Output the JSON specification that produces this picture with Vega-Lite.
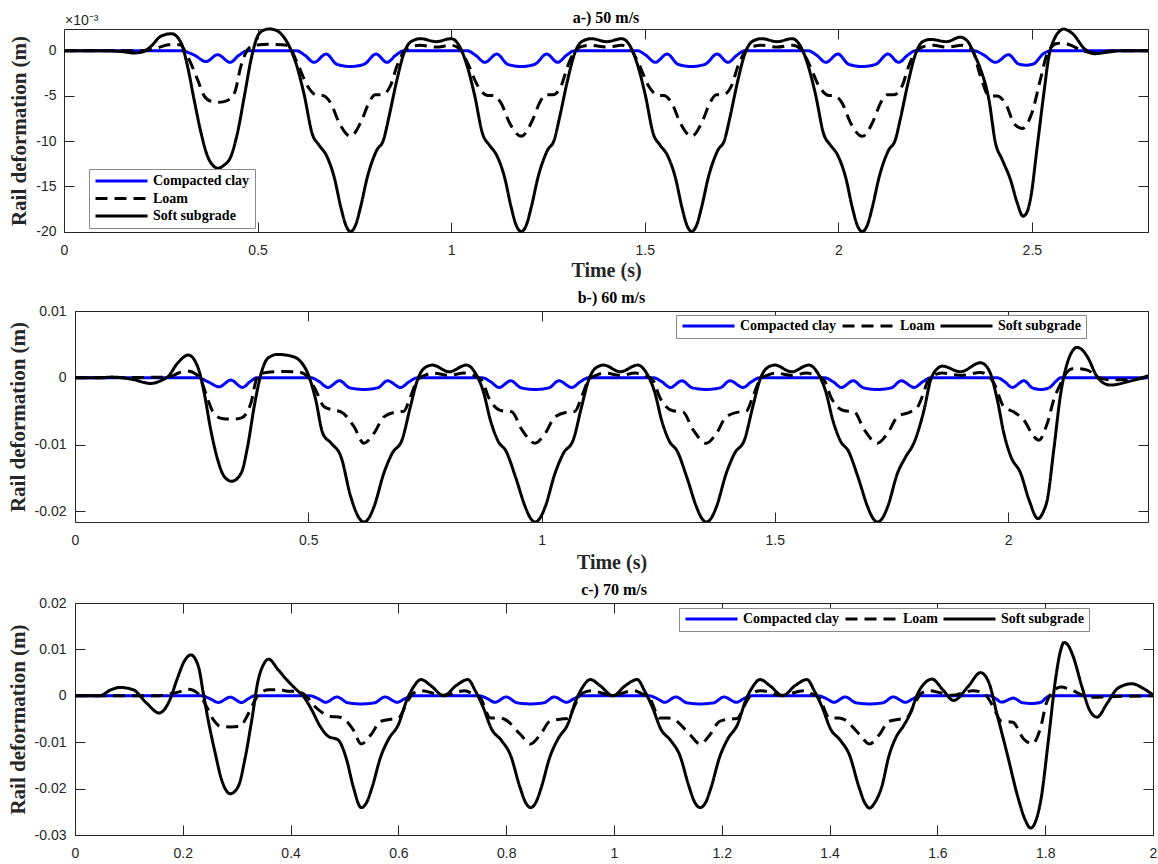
{
"$schema": "https://vega.github.io/schema/vega-lite/v6.json",
"background": "white",
"padding": {"left": 6, "top": 10, "right": 2, "bottom": 0},
"spacing": 8,
"config": {
  "view": {"stroke": "#262626", "strokeWidth": 1},
  "title": {"font": "Liberation Serif", "fontWeight": "bold", "fontSize": 16, "color": "#000000", "offset": 4, "frame": "group", "anchor": "middle"},
  "axis": {"labelFont": "Liberation Sans", "labelFontSize": 14, "labelColor": "#262626", "titleFont": "Liberation Serif", "titleFontWeight": "bold", "titleColor": "#262626", "grid": false, "domain": false, "domainColor": "#262626", "domainWidth": 1, "ticks": true, "tickColor": "#262626", "tickWidth": 1, "tickSize": 10, "offset": -10, "minExtent": 0, "labelFlush": false, "labelOverlap": false},
  "legend": {"orient": "none", "labelFont": "Liberation Serif", "labelFontWeight": "bold", "labelFontSize": 14, "labelColor": "#000000", "symbolType": "stroke", "symbolSize": 2704, "symbolStrokeWidth": 3, "labelOffset": 4, "fillColor": "#ffffff", "strokeColor": "#8a8a8a", "padding": 5, "clipHeight": 14, "rowPadding": 3.5, "columnPadding": 4}
},
"resolve": {"scale": {"color": "independent", "strokeDash": "independent"}},
"datasets": {
"a": [
{"s":"C","t":0,"v":0},{"s":"C","t":0.3,"v":0},{"s":"C","t":0.335,"v":-0.00045},{"s":"C","t":0.367,"v":-0.0012},{"s":"C","t":0.397,"v":-0.00044},{"s":"C","t":0.429,"v":-0.00129},{"s":"C","t":0.452,"v":-0.0005},{"s":"C","t":0.474,"v":0},
{"s":"C","t":0.6,"v":0},{"s":"C","t":0.622,"v":-0.0005},{"s":"C","t":0.646,"v":-0.00129},{"s":"C","t":0.677,"v":-0.00037},{"s":"C","t":0.705,"v":-0.0015},{"s":"C","t":0.74,"v":-0.00175},{"s":"C","t":0.775,"v":-0.0015},{"s":"C","t":0.806,"v":-0.00037},{"s":"C","t":0.834,"v":-0.00129},{"s":"C","t":0.857,"v":-0.0005},{"s":"C","t":0.878,"v":0},
{"s":"C","t":1.041,"v":0},{"s":"C","t":1.063,"v":-0.0005},{"s":"C","t":1.087,"v":-0.00129},{"s":"C","t":1.118,"v":-0.00037},{"s":"C","t":1.146,"v":-0.0015},{"s":"C","t":1.181,"v":-0.00175},{"s":"C","t":1.216,"v":-0.0015},{"s":"C","t":1.247,"v":-0.00037},{"s":"C","t":1.275,"v":-0.00129},{"s":"C","t":1.298,"v":-0.0005},{"s":"C","t":1.319,"v":0},
{"s":"C","t":1.481,"v":0},{"s":"C","t":1.503,"v":-0.0005},{"s":"C","t":1.527,"v":-0.00129},{"s":"C","t":1.558,"v":-0.00037},{"s":"C","t":1.586,"v":-0.0015},{"s":"C","t":1.621,"v":-0.00175},{"s":"C","t":1.656,"v":-0.0015},{"s":"C","t":1.687,"v":-0.00037},{"s":"C","t":1.715,"v":-0.00129},{"s":"C","t":1.738,"v":-0.0005},{"s":"C","t":1.759,"v":0},
{"s":"C","t":1.922,"v":0},{"s":"C","t":1.944,"v":-0.0005},{"s":"C","t":1.968,"v":-0.00129},{"s":"C","t":1.999,"v":-0.00037},{"s":"C","t":2.027,"v":-0.0015},{"s":"C","t":2.062,"v":-0.00175},{"s":"C","t":2.097,"v":-0.0015},{"s":"C","t":2.128,"v":-0.00037},{"s":"C","t":2.156,"v":-0.00129},{"s":"C","t":2.179,"v":-0.0005},{"s":"C","t":2.2,"v":0},
{"s":"C","t":2.35,"v":0},{"s":"C","t":2.375,"v":-0.00045},{"s":"C","t":2.406,"v":-0.00129},{"s":"C","t":2.44,"v":-0.00044},{"s":"C","t":2.465,"v":-0.00145},{"s":"C","t":2.485,"v":-0.0016},{"s":"C","t":2.505,"v":-0.00145},{"s":"C","t":2.528,"v":-0.0004},{"s":"C","t":2.55,"v":0},{"s":"C","t":2.8,"v":0},
{"s":"L","t":0,"v":0},{"s":"L","t":0.2,"v":0},{"s":"L","t":0.24,"v":0.0003},{"s":"L","t":0.27,"v":0.00066},{"s":"L","t":0.3,"v":0.00066},{"s":"L","t":0.319,"v":-0.0006},{"s":"L","t":0.345,"v":-0.0032},{"s":"L","t":0.362,"v":-0.005},{"s":"L","t":0.38,"v":-0.0056},{"s":"L","t":0.398,"v":-0.0057},{"s":"L","t":0.416,"v":-0.0056},{"s":"L","t":0.44,"v":-0.0047},{"s":"L","t":0.457,"v":-0.0017},{"s":"L","t":0.474,"v":0.0001},{"s":"L","t":0.49,"v":0.0006},{"s":"L","t":0.53,"v":0.0007},{"s":"L","t":0.578,"v":0.0006},{"s":"L","t":0.603,"v":-0.0014},{"s":"L","t":0.629,"v":-0.0039},{"s":"L","t":0.655,"v":-0.00495},{"s":"L","t":0.668,"v":-0.00495},{"s":"L","t":0.689,"v":-0.0058},{"s":"L","t":0.711,"v":-0.008},
{"s":"L","t":0.74,"v":-0.00947},{"s":"L","t":0.77,"v":-0.0076},{"s":"L","t":0.787,"v":-0.0058},{"s":"L","t":0.804,"v":-0.00486},{"s":"L","t":0.822,"v":-0.00486},{"s":"L","t":0.843,"v":-0.0039},{"s":"L","t":0.86,"v":-0.0017},{"s":"L","t":0.878,"v":-0.0001},{"s":"L","t":0.895,"v":0.00045},{"s":"L","t":0.921,"v":0.0006},{"s":"L","t":0.961,"v":0.0004},{"s":"L","t":1,"v":0.0006},{"s":"L","t":1.022,"v":0.0002},{"s":"L","t":1.043,"v":-0.0014},{"s":"L","t":1.069,"v":-0.0039},{"s":"L","t":1.095,"v":-0.00495},{"s":"L","t":1.108,"v":-0.00495},{"s":"L","t":1.129,"v":-0.0058},{"s":"L","t":1.151,"v":-0.008},
{"s":"L","t":1.181,"v":-0.00947},{"s":"L","t":1.211,"v":-0.0076},{"s":"L","t":1.228,"v":-0.0058},{"s":"L","t":1.245,"v":-0.00486},{"s":"L","t":1.263,"v":-0.00486},{"s":"L","t":1.284,"v":-0.0039},{"s":"L","t":1.301,"v":-0.0017},{"s":"L","t":1.319,"v":-0.0001},{"s":"L","t":1.336,"v":0.00045},{"s":"L","t":1.362,"v":0.0006},{"s":"L","t":1.402,"v":0.0004},{"s":"L","t":1.441,"v":0.0006},{"s":"L","t":1.463,"v":0.0002},{"s":"L","t":1.484,"v":-0.0014},{"s":"L","t":1.51,"v":-0.0039},{"s":"L","t":1.536,"v":-0.00495},{"s":"L","t":1.549,"v":-0.00495},{"s":"L","t":1.57,"v":-0.0058},{"s":"L","t":1.592,"v":-0.008},
{"s":"L","t":1.621,"v":-0.00947},{"s":"L","t":1.651,"v":-0.0076},{"s":"L","t":1.668,"v":-0.0058},{"s":"L","t":1.685,"v":-0.00486},{"s":"L","t":1.703,"v":-0.00486},{"s":"L","t":1.724,"v":-0.0039},{"s":"L","t":1.741,"v":-0.0017},{"s":"L","t":1.759,"v":-0.0001},{"s":"L","t":1.776,"v":0.00045},{"s":"L","t":1.802,"v":0.0006},{"s":"L","t":1.842,"v":0.0004},{"s":"L","t":1.881,"v":0.0006},{"s":"L","t":1.903,"v":0.0002},{"s":"L","t":1.924,"v":-0.0014},{"s":"L","t":1.95,"v":-0.0039},{"s":"L","t":1.976,"v":-0.00495},{"s":"L","t":1.989,"v":-0.00495},{"s":"L","t":2.01,"v":-0.0058},{"s":"L","t":2.032,"v":-0.008},
{"s":"L","t":2.062,"v":-0.00947},{"s":"L","t":2.092,"v":-0.0076},{"s":"L","t":2.109,"v":-0.0058},{"s":"L","t":2.126,"v":-0.00486},{"s":"L","t":2.144,"v":-0.00486},{"s":"L","t":2.165,"v":-0.0039},{"s":"L","t":2.182,"v":-0.0017},{"s":"L","t":2.2,"v":-0.0001},{"s":"L","t":2.22,"v":0.00045},{"s":"L","t":2.245,"v":0.0006},{"s":"L","t":2.28,"v":0.0004},{"s":"L","t":2.32,"v":0.0006},{"s":"L","t":2.345,"v":0.0002},{"s":"L","t":2.367,"v":-0.0028},{"s":"L","t":2.39,"v":-0.005},{"s":"L","t":2.41,"v":-0.005},{"s":"L","t":2.436,"v":-0.0062},{"s":"L","t":2.453,"v":-0.008},{"s":"L","t":2.475,"v":-0.0086},{"s":"L","t":2.5,"v":-0.0069},{"s":"L","t":2.522,"v":-0.0032},{"s":"L","t":2.54,"v":-0.0003},{"s":"L","t":2.565,"v":0.0008},{"s":"L","t":2.58,"v":0.00085},{"s":"L","t":2.607,"v":0.00048},{"s":"L","t":2.63,"v":0},{"s":"L","t":2.665,"v":-0.00025},{"s":"L","t":2.71,"v":0},{"s":"L","t":2.8,"v":0},
{"s":"S","t":0,"v":0},{"s":"S","t":0.1,"v":0},{"s":"S","t":0.15,"v":-0.0001},{"s":"S","t":0.18,"v":-0.00025},{"s":"S","t":0.205,"v":-0.0001},{"s":"S","t":0.225,"v":0.0005},{"s":"S","t":0.25,"v":0.0016},{"s":"S","t":0.278,"v":0.00188},{"s":"S","t":0.302,"v":0.0009},{"s":"S","t":0.319,"v":-0.0017},{"s":"S","t":0.336,"v":-0.0054},{"s":"S","t":0.354,"v":-0.0091},{"s":"S","t":0.371,"v":-0.0117},{"s":"S","t":0.385,"v":-0.0127},{"s":"S","t":0.398,"v":-0.013},{"s":"S","t":0.412,"v":-0.0127},{"s":"S","t":0.431,"v":-0.0117},{"s":"S","t":0.448,"v":-0.0091},{"s":"S","t":0.466,"v":-0.005},{"s":"S","t":0.483,"v":-0.001},{"s":"S","t":0.5,"v":0.0016},{"s":"S","t":0.515,"v":0.00225},{"s":"S","t":0.53,"v":0.0024},{"s":"S","t":0.545,"v":0.0023},{"s":"S","t":0.56,"v":0.0019},{"s":"S","t":0.586,"v":0.0001},{"s":"S","t":0.6,"v":-0.0015},{"s":"S","t":0.62,"v":-0.0048},{"s":"S","t":0.642,"v":-0.0093},{"s":"S","t":0.658,"v":-0.0104},{"s":"S","t":0.678,"v":-0.0116},{"s":"S","t":0.698,"v":-0.014},{"s":"S","t":0.715,"v":-0.0173},{"s":"S","t":0.728,"v":-0.0193},
{"s":"S","t":0.74,"v":-0.02},{"s":"S","t":0.753,"v":-0.0193},{"s":"S","t":0.766,"v":-0.0173},{"s":"S","t":0.784,"v":-0.0139},{"s":"S","t":0.808,"v":-0.011},{"s":"S","t":0.825,"v":-0.0099},{"s":"S","t":0.839,"v":-0.0074},{"s":"S","t":0.859,"v":-0.0034},{"s":"S","t":0.878,"v":-0.0003},{"s":"S","t":0.896,"v":0.001},{"s":"S","t":0.921,"v":0.00133},{"s":"S","t":0.961,"v":0.001},{"s":"S","t":1,"v":0.00133},{"s":"S","t":1.02,"v":0.0006},{"s":"S","t":1.04,"v":-0.0015},{"s":"S","t":1.06,"v":-0.0048},{"s":"S","t":1.082,"v":-0.0093},{"s":"S","t":1.098,"v":-0.0104},{"s":"S","t":1.118,"v":-0.0116},{"s":"S","t":1.138,"v":-0.014},{"s":"S","t":1.155,"v":-0.0173},{"s":"S","t":1.168,"v":-0.0193},
{"s":"S","t":1.181,"v":-0.02},{"s":"S","t":1.194,"v":-0.0193},{"s":"S","t":1.207,"v":-0.0173},{"s":"S","t":1.225,"v":-0.0139},{"s":"S","t":1.249,"v":-0.011},{"s":"S","t":1.266,"v":-0.0099},{"s":"S","t":1.28,"v":-0.0074},{"s":"S","t":1.3,"v":-0.0034},{"s":"S","t":1.319,"v":-0.0003},{"s":"S","t":1.337,"v":0.001},{"s":"S","t":1.362,"v":0.00133},{"s":"S","t":1.402,"v":0.001},{"s":"S","t":1.441,"v":0.00133},{"s":"S","t":1.461,"v":0.0006},{"s":"S","t":1.481,"v":-0.0015},{"s":"S","t":1.501,"v":-0.0048},{"s":"S","t":1.523,"v":-0.0093},{"s":"S","t":1.539,"v":-0.0104},{"s":"S","t":1.559,"v":-0.0116},{"s":"S","t":1.579,"v":-0.014},{"s":"S","t":1.596,"v":-0.0173},{"s":"S","t":1.609,"v":-0.0193},
{"s":"S","t":1.621,"v":-0.02},{"s":"S","t":1.634,"v":-0.0193},{"s":"S","t":1.647,"v":-0.0173},{"s":"S","t":1.665,"v":-0.0139},{"s":"S","t":1.689,"v":-0.011},{"s":"S","t":1.706,"v":-0.0099},{"s":"S","t":1.72,"v":-0.0074},{"s":"S","t":1.74,"v":-0.0034},{"s":"S","t":1.759,"v":-0.0003},{"s":"S","t":1.777,"v":0.001},{"s":"S","t":1.802,"v":0.00133},{"s":"S","t":1.842,"v":0.001},{"s":"S","t":1.881,"v":0.00133},{"s":"S","t":1.901,"v":0.0006},{"s":"S","t":1.921,"v":-0.0015},{"s":"S","t":1.941,"v":-0.0048},{"s":"S","t":1.963,"v":-0.0093},{"s":"S","t":1.979,"v":-0.0104},{"s":"S","t":1.999,"v":-0.0116},{"s":"S","t":2.019,"v":-0.014},{"s":"S","t":2.036,"v":-0.0173},{"s":"S","t":2.049,"v":-0.0193},
{"s":"S","t":2.062,"v":-0.02},{"s":"S","t":2.075,"v":-0.0193},{"s":"S","t":2.088,"v":-0.0173},{"s":"S","t":2.106,"v":-0.0139},{"s":"S","t":2.13,"v":-0.011},{"s":"S","t":2.147,"v":-0.0099},{"s":"S","t":2.161,"v":-0.0074},{"s":"S","t":2.181,"v":-0.0034},{"s":"S","t":2.2,"v":-0.0003},{"s":"S","t":2.218,"v":0.001},{"s":"S","t":2.238,"v":0.00125},{"s":"S","t":2.28,"v":0.001},{"s":"S","t":2.315,"v":0.0015},{"s":"S","t":2.335,"v":0.001},{"s":"S","t":2.35,"v":-0.0003},{"s":"S","t":2.367,"v":-0.002},{"s":"S","t":2.389,"v":-0.0054},{"s":"S","t":2.406,"v":-0.0102},{"s":"S","t":2.423,"v":-0.012},{"s":"S","t":2.445,"v":-0.0143},{"s":"S","t":2.462,"v":-0.0168},{"s":"S","t":2.477,"v":-0.0183},{"s":"S","t":2.488,"v":-0.0178},{"s":"S","t":2.498,"v":-0.016},{"s":"S","t":2.513,"v":-0.0109},{"s":"S","t":2.531,"v":-0.0047},{"s":"S","t":2.544,"v":-0.0006},{"s":"S","t":2.557,"v":0.0012},{"s":"S","t":2.57,"v":0.0021},{"s":"S","t":2.582,"v":0.0024},{"s":"S","t":2.595,"v":0.0022},{"s":"S","t":2.608,"v":0.00177},{"s":"S","t":2.634,"v":0.0003},{"s":"S","t":2.66,"v":-0.00033},{"s":"S","t":2.694,"v":-0.00018},{"s":"S","t":2.73,"v":0},{"s":"S","t":2.8,"v":0}
],
"b": [
{"s":"C","t":0,"v":0},{"s":"C","t":0.263,"v":0},{"s":"C","t":0.285,"v":-0.0006},{"s":"C","t":0.309,"v":-0.00135},{"s":"C","t":0.334,"v":-0.00035},{"s":"C","t":0.359,"v":-0.00145},{"s":"C","t":0.375,"v":-0.0006},{"s":"C","t":0.39,"v":0},
{"s":"C","t":0.506,"v":0},{"s":"C","t":0.524,"v":-0.0006},{"s":"C","t":0.542,"v":-0.00145},{"s":"C","t":0.567,"v":-0.00045},{"s":"C","t":0.589,"v":-0.0015},{"s":"C","t":0.619,"v":-0.00175},{"s":"C","t":0.649,"v":-0.0015},{"s":"C","t":0.67,"v":-0.00045},{"s":"C","t":0.698,"v":-0.00145},{"s":"C","t":0.716,"v":-0.0006},{"s":"C","t":0.734,"v":0},
{"s":"C","t":0.873,"v":0},{"s":"C","t":0.891,"v":-0.0006},{"s":"C","t":0.909,"v":-0.00145},{"s":"C","t":0.934,"v":-0.00045},{"s":"C","t":0.956,"v":-0.0015},{"s":"C","t":0.986,"v":-0.00175},{"s":"C","t":1.016,"v":-0.0015},{"s":"C","t":1.037,"v":-0.00045},{"s":"C","t":1.065,"v":-0.00145},{"s":"C","t":1.083,"v":-0.0006},{"s":"C","t":1.101,"v":0},
{"s":"C","t":1.24,"v":0},{"s":"C","t":1.258,"v":-0.0006},{"s":"C","t":1.276,"v":-0.00145},{"s":"C","t":1.301,"v":-0.00045},{"s":"C","t":1.323,"v":-0.0015},{"s":"C","t":1.353,"v":-0.00175},{"s":"C","t":1.383,"v":-0.0015},{"s":"C","t":1.404,"v":-0.00045},{"s":"C","t":1.432,"v":-0.00145},{"s":"C","t":1.45,"v":-0.0006},{"s":"C","t":1.468,"v":0},
{"s":"C","t":1.607,"v":0},{"s":"C","t":1.625,"v":-0.0006},{"s":"C","t":1.643,"v":-0.00145},{"s":"C","t":1.668,"v":-0.00045},{"s":"C","t":1.69,"v":-0.0015},{"s":"C","t":1.72,"v":-0.00175},{"s":"C","t":1.75,"v":-0.0015},{"s":"C","t":1.771,"v":-0.00045},{"s":"C","t":1.799,"v":-0.00145},{"s":"C","t":1.817,"v":-0.0006},{"s":"C","t":1.835,"v":0},
{"s":"C","t":1.977,"v":0},{"s":"C","t":1.993,"v":-0.0006},{"s":"C","t":2.009,"v":-0.00145},{"s":"C","t":2.034,"v":-0.00045},{"s":"C","t":2.052,"v":-0.0015},{"s":"C","t":2.07,"v":-0.00175},{"s":"C","t":2.088,"v":-0.0015},{"s":"C","t":2.103,"v":-0.0005},{"s":"C","t":2.113,"v":0},{"s":"C","t":2.3,"v":0},
{"s":"L","t":0,"v":0},{"s":"L","t":0.2,"v":0.0001},{"s":"L","t":0.225,"v":0.0008},{"s":"L","t":0.241,"v":0.001},{"s":"L","t":0.258,"v":0.0006},{"s":"L","t":0.27,"v":-0.00035},{"s":"L","t":0.285,"v":-0.0033},{"s":"L","t":0.298,"v":-0.0054},{"s":"L","t":0.315,"v":-0.0061},{"s":"L","t":0.336,"v":-0.0062},{"s":"L","t":0.357,"v":-0.006},{"s":"L","t":0.377,"v":-0.0038},{"s":"L","t":0.391,"v":0.00015},{"s":"L","t":0.41,"v":0.0008},{"s":"L","t":0.45,"v":0.00095},{"s":"L","t":0.484,"v":0.0008},{"s":"L","t":0.499,"v":0.00015},{"s":"L","t":0.516,"v":-0.00185},{"s":"L","t":0.534,"v":-0.00435},{"s":"L","t":0.552,"v":-0.0048},{"s":"L","t":0.57,"v":-0.0051},{"s":"L","t":0.598,"v":-0.0073},
{"s":"L","t":0.619,"v":-0.0098},{"s":"L","t":0.641,"v":-0.0083},{"s":"L","t":0.662,"v":-0.00585},{"s":"L","t":0.691,"v":-0.0051},{"s":"L","t":0.705,"v":-0.005},{"s":"L","t":0.719,"v":-0.00285},{"s":"L","t":0.734,"v":-0.00035},{"s":"L","t":0.751,"v":0.0004},{"s":"L","t":0.769,"v":0.0007},{"s":"L","t":0.802,"v":0.00035},{"s":"L","t":0.834,"v":0.0007},{"s":"L","t":0.856,"v":0.0003},{"s":"L","t":0.872,"v":-0.00035},{"s":"L","t":0.886,"v":-0.00285},{"s":"L","t":0.915,"v":-0.00495},{"s":"L","t":0.936,"v":-0.0051},{"s":"L","t":0.958,"v":-0.0078},
{"s":"L","t":0.986,"v":-0.0098},{"s":"L","t":1.008,"v":-0.0083},{"s":"L","t":1.029,"v":-0.00585},{"s":"L","t":1.058,"v":-0.0051},{"s":"L","t":1.072,"v":-0.005},{"s":"L","t":1.086,"v":-0.00285},{"s":"L","t":1.101,"v":-0.00035},{"s":"L","t":1.118,"v":0.0004},{"s":"L","t":1.136,"v":0.0007},{"s":"L","t":1.169,"v":0.00035},{"s":"L","t":1.201,"v":0.0007},{"s":"L","t":1.223,"v":0.0003},{"s":"L","t":1.239,"v":-0.00035},{"s":"L","t":1.253,"v":-0.00285},{"s":"L","t":1.282,"v":-0.00495},{"s":"L","t":1.303,"v":-0.0051},{"s":"L","t":1.325,"v":-0.0078},
{"s":"L","t":1.353,"v":-0.0098},{"s":"L","t":1.375,"v":-0.0083},{"s":"L","t":1.396,"v":-0.00585},{"s":"L","t":1.425,"v":-0.0051},{"s":"L","t":1.439,"v":-0.005},{"s":"L","t":1.453,"v":-0.00285},{"s":"L","t":1.468,"v":-0.00035},{"s":"L","t":1.485,"v":0.0004},{"s":"L","t":1.503,"v":0.0007},{"s":"L","t":1.536,"v":0.00035},{"s":"L","t":1.568,"v":0.0007},{"s":"L","t":1.59,"v":0.0003},{"s":"L","t":1.606,"v":-0.00035},{"s":"L","t":1.62,"v":-0.00285},{"s":"L","t":1.649,"v":-0.00495},{"s":"L","t":1.67,"v":-0.0051},{"s":"L","t":1.692,"v":-0.0078},
{"s":"L","t":1.72,"v":-0.0098},{"s":"L","t":1.742,"v":-0.0083},{"s":"L","t":1.763,"v":-0.00585},{"s":"L","t":1.791,"v":-0.0051},{"s":"L","t":1.805,"v":-0.0045},{"s":"L","t":1.816,"v":-0.00285},{"s":"L","t":1.829,"v":-0.00035},{"s":"L","t":1.845,"v":0.0005},{"s":"L","t":1.86,"v":0.0007},{"s":"L","t":1.9,"v":0.00035},{"s":"L","t":1.94,"v":0.0008},{"s":"L","t":1.958,"v":0.0003},{"s":"L","t":1.97,"v":-0.00085},{"s":"L","t":1.991,"v":-0.00435},{"s":"L","t":2.012,"v":-0.0051},{"s":"L","t":2.034,"v":-0.00635},{"s":"L","t":2.056,"v":-0.00885},{"s":"L","t":2.066,"v":-0.00935},{"s":"L","t":2.084,"v":-0.00685},{"s":"L","t":2.098,"v":-0.0033},{"s":"L","t":2.113,"v":-0.00085},{"s":"L","t":2.127,"v":0.0009},{"s":"L","t":2.141,"v":0.0014},{"s":"L","t":2.17,"v":0.00115},{"s":"L","t":2.191,"v":0.00015},{"s":"L","t":2.22,"v":-0.0003},{"s":"L","t":2.26,"v":-0.0003},{"s":"L","t":2.3,"v":0.0001},
{"s":"S","t":0,"v":0},{"s":"S","t":0.05,"v":0},{"s":"S","t":0.08,"v":0.0001},{"s":"S","t":0.12,"v":-0.0002},{"s":"S","t":0.163,"v":-0.00085},{"s":"S","t":0.185,"v":-0.0004},{"s":"S","t":0.199,"v":0.00015},{"s":"S","t":0.22,"v":0.0022},{"s":"S","t":0.243,"v":0.0034},{"s":"S","t":0.263,"v":0.00165},{"s":"S","t":0.277,"v":-0.0023},{"s":"S","t":0.291,"v":-0.0078},{"s":"S","t":0.306,"v":-0.0123},{"s":"S","t":0.32,"v":-0.0148},{"s":"S","t":0.336,"v":-0.0155},{"s":"S","t":0.356,"v":-0.0143},{"s":"S","t":0.37,"v":-0.0103},{"s":"S","t":0.384,"v":-0.00435},{"s":"S","t":0.399,"v":0.00065},{"s":"S","t":0.413,"v":0.0029},{"s":"S","t":0.434,"v":0.0035},{"s":"S","t":0.463,"v":0.00325},{"s":"S","t":0.484,"v":0.0024},{"s":"S","t":0.499,"v":0.00065},{"s":"S","t":0.516,"v":-0.0033},{"s":"S","t":0.531,"v":-0.0083},{"s":"S","t":0.549,"v":-0.0098},{"s":"S","t":0.57,"v":-0.0118},{"s":"S","t":0.591,"v":-0.0178},{"s":"S","t":0.608,"v":-0.0209},
{"s":"S","t":0.619,"v":-0.0216},{"s":"S","t":0.63,"v":-0.021},{"s":"S","t":0.641,"v":-0.0193},{"s":"S","t":0.662,"v":-0.0143},{"s":"S","t":0.68,"v":-0.0113},{"s":"S","t":0.701,"v":-0.0093},{"s":"S","t":0.719,"v":-0.0043},{"s":"S","t":0.734,"v":-0.00035},{"s":"S","t":0.748,"v":0.0014},{"s":"S","t":0.766,"v":0.0019},{"s":"S","t":0.802,"v":0.0009},{"s":"S","t":0.839,"v":0.0019},{"s":"S","t":0.859,"v":0.0006},{"s":"S","t":0.875,"v":-0.002},{"s":"S","t":0.891,"v":-0.0065},{"s":"S","t":0.907,"v":-0.0095},{"s":"S","t":0.924,"v":-0.011},{"s":"S","t":0.944,"v":-0.0148},{"s":"S","t":0.965,"v":-0.0193},{"s":"S","t":0.976,"v":-0.021},
{"s":"S","t":0.986,"v":-0.0216},{"s":"S","t":0.997,"v":-0.021},{"s":"S","t":1.008,"v":-0.0193},{"s":"S","t":1.029,"v":-0.0143},{"s":"S","t":1.047,"v":-0.0113},{"s":"S","t":1.068,"v":-0.0093},{"s":"S","t":1.086,"v":-0.0043},{"s":"S","t":1.101,"v":-0.00035},{"s":"S","t":1.115,"v":0.0014},{"s":"S","t":1.133,"v":0.0019},{"s":"S","t":1.169,"v":0.0009},{"s":"S","t":1.206,"v":0.0019},{"s":"S","t":1.226,"v":0.0006},{"s":"S","t":1.242,"v":-0.002},{"s":"S","t":1.258,"v":-0.0065},{"s":"S","t":1.274,"v":-0.0095},{"s":"S","t":1.291,"v":-0.011},{"s":"S","t":1.311,"v":-0.0148},{"s":"S","t":1.332,"v":-0.0193},{"s":"S","t":1.343,"v":-0.021},
{"s":"S","t":1.353,"v":-0.0216},{"s":"S","t":1.364,"v":-0.021},{"s":"S","t":1.375,"v":-0.0193},{"s":"S","t":1.396,"v":-0.0143},{"s":"S","t":1.414,"v":-0.0113},{"s":"S","t":1.435,"v":-0.0093},{"s":"S","t":1.453,"v":-0.0043},{"s":"S","t":1.468,"v":-0.00035},{"s":"S","t":1.482,"v":0.0014},{"s":"S","t":1.5,"v":0.0019},{"s":"S","t":1.536,"v":0.0009},{"s":"S","t":1.573,"v":0.0019},{"s":"S","t":1.593,"v":0.0006},{"s":"S","t":1.609,"v":-0.002},{"s":"S","t":1.625,"v":-0.0065},{"s":"S","t":1.641,"v":-0.0095},{"s":"S","t":1.658,"v":-0.011},{"s":"S","t":1.678,"v":-0.0148},{"s":"S","t":1.699,"v":-0.0193},{"s":"S","t":1.71,"v":-0.021},
{"s":"S","t":1.72,"v":-0.0216},{"s":"S","t":1.731,"v":-0.021},{"s":"S","t":1.742,"v":-0.0193},{"s":"S","t":1.763,"v":-0.0143},{"s":"S","t":1.781,"v":-0.0118},{"s":"S","t":1.798,"v":-0.0098},{"s":"S","t":1.82,"v":-0.0048},{"s":"S","t":1.834,"v":-0.00035},{"s":"S","t":1.849,"v":0.0014},{"s":"S","t":1.859,"v":0.00175},{"s":"S","t":1.898,"v":0.0009},{"s":"S","t":1.941,"v":0.00225},{"s":"S","t":1.959,"v":0.00115},{"s":"S","t":1.977,"v":-0.0033},{"s":"S","t":1.991,"v":-0.0083},{"s":"S","t":2.006,"v":-0.0118},{"s":"S","t":2.027,"v":-0.0143},{"s":"S","t":2.045,"v":-0.0183},{"s":"S","t":2.064,"v":-0.0211},{"s":"S","t":2.076,"v":-0.02},{"s":"S","t":2.084,"v":-0.0183},{"s":"S","t":2.098,"v":-0.0108},{"s":"S","t":2.113,"v":-0.0023},{"s":"S","t":2.127,"v":0.0022},{"s":"S","t":2.137,"v":0.0039},{"s":"S","t":2.148,"v":0.00455},{"s":"S","t":2.16,"v":0.0041},{"s":"S","t":2.17,"v":0.00315},{"s":"S","t":2.191,"v":0.00015},{"s":"S","t":2.205,"v":-0.0008},{"s":"S","t":2.22,"v":-0.0011},{"s":"S","t":2.256,"v":-0.0006},{"s":"S","t":2.3,"v":0.0003}
],
"c": [
{"s":"C","t":0,"v":0},{"s":"C","t":0.235,"v":0},{"s":"C","t":0.25,"v":-0.0006},{"s":"C","t":0.266,"v":-0.00143},{"s":"C","t":0.288,"v":-0.0003},{"s":"C","t":0.309,"v":-0.00143},{"s":"C","t":0.322,"v":-0.0006},{"s":"C","t":0.333,"v":0},
{"s":"C","t":0.436,"v":0},{"s":"C","t":0.451,"v":-0.0006},{"s":"C","t":0.465,"v":-0.0014},{"s":"C","t":0.486,"v":-0.00025},{"s":"C","t":0.506,"v":-0.0015},{"s":"C","t":0.531,"v":-0.00175},{"s":"C","t":0.556,"v":-0.0015},{"s":"C","t":0.575,"v":-0.00025},{"s":"C","t":0.598,"v":-0.0014},{"s":"C","t":0.612,"v":-0.0006},{"s":"C","t":0.626,"v":0},
{"s":"C","t":0.75,"v":0},{"s":"C","t":0.765,"v":-0.0006},{"s":"C","t":0.779,"v":-0.0014},{"s":"C","t":0.8,"v":-0.00025},{"s":"C","t":0.82,"v":-0.0015},{"s":"C","t":0.845,"v":-0.00175},{"s":"C","t":0.87,"v":-0.0015},{"s":"C","t":0.889,"v":-0.00025},{"s":"C","t":0.912,"v":-0.0014},{"s":"C","t":0.926,"v":-0.0006},{"s":"C","t":0.94,"v":0},
{"s":"C","t":1.065,"v":0},{"s":"C","t":1.08,"v":-0.0006},{"s":"C","t":1.094,"v":-0.0014},{"s":"C","t":1.115,"v":-0.00025},{"s":"C","t":1.135,"v":-0.0015},{"s":"C","t":1.16,"v":-0.00175},{"s":"C","t":1.185,"v":-0.0015},{"s":"C","t":1.204,"v":-0.00025},{"s":"C","t":1.227,"v":-0.0014},{"s":"C","t":1.241,"v":-0.0006},{"s":"C","t":1.255,"v":0},
{"s":"C","t":1.379,"v":0},{"s":"C","t":1.394,"v":-0.0006},{"s":"C","t":1.408,"v":-0.0014},{"s":"C","t":1.429,"v":-0.00025},{"s":"C","t":1.449,"v":-0.0015},{"s":"C","t":1.474,"v":-0.00175},{"s":"C","t":1.499,"v":-0.0015},{"s":"C","t":1.518,"v":-0.00025},{"s":"C","t":1.541,"v":-0.0014},{"s":"C","t":1.555,"v":-0.0006},{"s":"C","t":1.569,"v":0},
{"s":"C","t":1.697,"v":0},{"s":"C","t":1.708,"v":-0.0006},{"s":"C","t":1.719,"v":-0.00136},{"s":"C","t":1.741,"v":-0.0005},{"s":"C","t":1.758,"v":-0.0015},{"s":"C","t":1.775,"v":-0.00165},{"s":"C","t":1.792,"v":-0.0014},{"s":"C","t":1.8,"v":-0.0006},{"s":"C","t":1.809,"v":0},{"s":"C","t":2,"v":0},
{"s":"L","t":0,"v":0},{"s":"L","t":0.15,"v":0},{"s":"L","t":0.18,"v":0.0005},{"s":"L","t":0.195,"v":0.0009},{"s":"L","t":0.21,"v":0.0014},{"s":"L","t":0.231,"v":0.0002},{"s":"L","t":0.244,"v":-0.0023},{"s":"L","t":0.257,"v":-0.0052},{"s":"L","t":0.27,"v":-0.0066},{"s":"L","t":0.288,"v":-0.0067},{"s":"L","t":0.306,"v":-0.0066},{"s":"L","t":0.319,"v":-0.00445},{"s":"L","t":0.331,"v":-0.0016},{"s":"L","t":0.343,"v":0.0006},{"s":"L","t":0.36,"v":0.0013},{"s":"L","t":0.38,"v":0.0013},{"s":"L","t":0.395,"v":0.001},{"s":"L","t":0.41,"v":0.001},{"s":"L","t":0.43,"v":-0.00015},{"s":"L","t":0.445,"v":-0.0023},{"s":"L","t":0.46,"v":-0.0037},{"s":"L","t":0.474,"v":-0.00445},{"s":"L","t":0.492,"v":-0.0046},{"s":"L","t":0.516,"v":-0.0073},
{"s":"L","t":0.531,"v":-0.0104},{"s":"L","t":0.549,"v":-0.0084},{"s":"L","t":0.567,"v":-0.0055},{"s":"L","t":0.589,"v":-0.005},{"s":"L","t":0.599,"v":-0.0049},{"s":"L","t":0.617,"v":-0.0012},{"s":"L","t":0.628,"v":0.0006},{"s":"L","t":0.643,"v":0.0011},{"s":"L","t":0.683,"v":0.0001},{"s":"L","t":0.723,"v":0.0011},{"s":"L","t":0.738,"v":0.0004},{"s":"L","t":0.752,"v":-0.0005},{"s":"L","t":0.771,"v":-0.0048},{"s":"L","t":0.786,"v":-0.0048},{"s":"L","t":0.796,"v":-0.005},{"s":"L","t":0.827,"v":-0.0084},
{"s":"L","t":0.845,"v":-0.0104},{"s":"L","t":0.863,"v":-0.0084},{"s":"L","t":0.881,"v":-0.0055},{"s":"L","t":0.903,"v":-0.005},{"s":"L","t":0.913,"v":-0.0049},{"s":"L","t":0.931,"v":-0.0012},{"s":"L","t":0.942,"v":0.0006},{"s":"L","t":0.957,"v":0.0011},{"s":"L","t":0.997,"v":0.0001},{"s":"L","t":1.037,"v":0.0011},{"s":"L","t":1.052,"v":0.0004},{"s":"L","t":1.066,"v":-0.0005},{"s":"L","t":1.085,"v":-0.0048},{"s":"L","t":1.1,"v":-0.0048},{"s":"L","t":1.11,"v":-0.005},{"s":"L","t":1.141,"v":-0.0084},
{"s":"L","t":1.16,"v":-0.0104},{"s":"L","t":1.178,"v":-0.0084},{"s":"L","t":1.196,"v":-0.0055},{"s":"L","t":1.218,"v":-0.005},{"s":"L","t":1.228,"v":-0.0049},{"s":"L","t":1.246,"v":-0.0012},{"s":"L","t":1.257,"v":0.0006},{"s":"L","t":1.272,"v":0.0011},{"s":"L","t":1.312,"v":0.0001},{"s":"L","t":1.352,"v":0.0011},{"s":"L","t":1.367,"v":0.0004},{"s":"L","t":1.381,"v":-0.0005},{"s":"L","t":1.4,"v":-0.0048},{"s":"L","t":1.415,"v":-0.0048},{"s":"L","t":1.425,"v":-0.005},{"s":"L","t":1.456,"v":-0.0084},
{"s":"L","t":1.474,"v":-0.0104},{"s":"L","t":1.492,"v":-0.0084},{"s":"L","t":1.51,"v":-0.0055},{"s":"L","t":1.532,"v":-0.005},{"s":"L","t":1.542,"v":-0.0049},{"s":"L","t":1.56,"v":-0.0012},{"s":"L","t":1.571,"v":0.0006},{"s":"L","t":1.586,"v":0.0011},{"s":"L","t":1.626,"v":0.0001},{"s":"L","t":1.666,"v":0.0011},{"s":"L","t":1.685,"v":0.0006},{"s":"L","t":1.697,"v":-0.001},{"s":"L","t":1.706,"v":-0.003},{"s":"L","t":1.718,"v":-0.0054},{"s":"L","t":1.74,"v":-0.0057},{"s":"L","t":1.76,"v":-0.0093},{"s":"L","t":1.776,"v":-0.0103},{"s":"L","t":1.792,"v":-0.0066},{"s":"L","t":1.802,"v":-0.0016},{"s":"L","t":1.812,"v":0.0006},{"s":"L","t":1.829,"v":0.00187},{"s":"L","t":1.848,"v":0.0013},{"s":"L","t":1.868,"v":0.0002},{"s":"L","t":1.886,"v":-0.0003},{"s":"L","t":1.93,"v":-0.00015},{"s":"L","t":2,"v":0},
{"s":"S","t":0,"v":0},{"s":"S","t":0.046,"v":0},{"s":"S","t":0.065,"v":0.0012},{"s":"S","t":0.083,"v":0.0018},{"s":"S","t":0.108,"v":0.0013},{"s":"S","t":0.133,"v":-0.0016},{"s":"S","t":0.156,"v":-0.0037},{"s":"S","t":0.176,"v":-0.00086},{"s":"S","t":0.189,"v":0.00344},{"s":"S","t":0.204,"v":0.0077},{"s":"S","t":0.215,"v":0.0088},{"s":"S","t":0.229,"v":0.0063},{"s":"S","t":0.238,"v":0.0006},{"s":"S","t":0.247,"v":-0.0052},{"s":"S","t":0.26,"v":-0.0123},{"s":"S","t":0.272,"v":-0.0181},{"s":"S","t":0.288,"v":-0.0211},{"s":"S","t":0.303,"v":-0.0195},{"s":"S","t":0.315,"v":-0.0138},{"s":"S","t":0.328,"v":-0.0052},{"s":"S","t":0.34,"v":0.00344},{"s":"S","t":0.35,"v":0.0068},{"s":"S","t":0.359,"v":0.0079},{"s":"S","t":0.377,"v":0.0056},{"s":"S","t":0.393,"v":0.00344},{"s":"S","t":0.411,"v":0.0013},{"s":"S","t":0.424,"v":-0.00015},{"s":"S","t":0.439,"v":-0.003},{"s":"S","t":0.455,"v":-0.0066},{"s":"S","t":0.47,"v":-0.00875},{"s":"S","t":0.488,"v":-0.0095},{"s":"S","t":0.504,"v":-0.0138},{"s":"S","t":0.516,"v":-0.0195},
{"s":"S","t":0.531,"v":-0.0241},{"s":"S","t":0.541,"v":-0.023},{"s":"S","t":0.551,"v":-0.0198},{"s":"S","t":0.567,"v":-0.0132},{"s":"S","t":0.582,"v":-0.0093},{"s":"S","t":0.6,"v":-0.0062},{"s":"S","t":0.616,"v":-0.0008},{"s":"S","t":0.627,"v":0.0017},{"s":"S","t":0.642,"v":0.0035},{"s":"S","t":0.661,"v":0.0021},{"s":"S","t":0.684,"v":0},{"s":"S","t":0.707,"v":0.0022},{"s":"S","t":0.729,"v":0.0035},{"s":"S","t":0.743,"v":0.001},{"s":"S","t":0.757,"v":-0.0024},{"s":"S","t":0.773,"v":-0.0072},{"s":"S","t":0.791,"v":-0.0096},{"s":"S","t":0.808,"v":-0.0128},{"s":"S","t":0.825,"v":-0.0195},{"s":"S","t":0.836,"v":-0.023},
{"s":"S","t":0.845,"v":-0.0241},{"s":"S","t":0.855,"v":-0.023},{"s":"S","t":0.865,"v":-0.0198},{"s":"S","t":0.881,"v":-0.0132},{"s":"S","t":0.896,"v":-0.0093},{"s":"S","t":0.914,"v":-0.0062},{"s":"S","t":0.93,"v":-0.0008},{"s":"S","t":0.941,"v":0.0017},{"s":"S","t":0.956,"v":0.0035},{"s":"S","t":0.975,"v":0.0021},{"s":"S","t":0.998,"v":0},{"s":"S","t":1.021,"v":0.0022},{"s":"S","t":1.043,"v":0.0035},{"s":"S","t":1.057,"v":0.001},{"s":"S","t":1.071,"v":-0.0024},{"s":"S","t":1.087,"v":-0.0072},{"s":"S","t":1.105,"v":-0.0096},{"s":"S","t":1.122,"v":-0.0128},{"s":"S","t":1.139,"v":-0.0195},{"s":"S","t":1.15,"v":-0.023},
{"s":"S","t":1.16,"v":-0.0241},{"s":"S","t":1.17,"v":-0.023},{"s":"S","t":1.18,"v":-0.0198},{"s":"S","t":1.196,"v":-0.0132},{"s":"S","t":1.211,"v":-0.0093},{"s":"S","t":1.229,"v":-0.0062},{"s":"S","t":1.245,"v":-0.0008},{"s":"S","t":1.256,"v":0.0017},{"s":"S","t":1.271,"v":0.0035},{"s":"S","t":1.29,"v":0.0021},{"s":"S","t":1.313,"v":0},{"s":"S","t":1.336,"v":0.0022},{"s":"S","t":1.358,"v":0.0035},{"s":"S","t":1.372,"v":0.001},{"s":"S","t":1.386,"v":-0.0024},{"s":"S","t":1.402,"v":-0.0072},{"s":"S","t":1.42,"v":-0.0096},{"s":"S","t":1.437,"v":-0.0128},{"s":"S","t":1.454,"v":-0.0195},{"s":"S","t":1.465,"v":-0.023},
{"s":"S","t":1.474,"v":-0.0242},{"s":"S","t":1.484,"v":-0.023},{"s":"S","t":1.497,"v":-0.0195},{"s":"S","t":1.51,"v":-0.013},{"s":"S","t":1.524,"v":-0.00875},{"s":"S","t":1.537,"v":-0.0065},{"s":"S","t":1.55,"v":-0.0037},{"s":"S","t":1.564,"v":0.0006},{"s":"S","t":1.577,"v":0.0028},{"s":"S","t":1.59,"v":0.0036},{"s":"S","t":1.61,"v":0.0013},{"s":"S","t":1.63,"v":-0.001},{"s":"S","t":1.657,"v":0.002},{"s":"S","t":1.68,"v":0.005},{"s":"S","t":1.696,"v":0.0027},{"s":"S","t":1.71,"v":-0.0037},{"s":"S","t":1.729,"v":-0.0123},{"s":"S","t":1.749,"v":-0.0217},{"s":"S","t":1.762,"v":-0.0265},{"s":"S","t":1.773,"v":-0.0285},{"s":"S","t":1.783,"v":-0.0268},{"s":"S","t":1.792,"v":-0.0224},{"s":"S","t":1.806,"v":-0.0095},{"s":"S","t":1.819,"v":0.00344},{"s":"S","t":1.828,"v":0.0095},{"s":"S","t":1.835,"v":0.0115},{"s":"S","t":1.843,"v":0.0108},{"s":"S","t":1.852,"v":0.00845},{"s":"S","t":1.868,"v":0.002},{"s":"S","t":1.882,"v":-0.003},{"s":"S","t":1.896,"v":-0.0046},{"s":"S","t":1.915,"v":-0.0016},{"s":"S","t":1.935,"v":0.00165},{"s":"S","t":1.961,"v":0.0026},{"s":"S","t":1.981,"v":0.00165},{"s":"S","t":2,"v":0.0002}
]
},
"vconcat": [
{
  "title": {"text": "a-) 50 m/s", "offset": -12, "dx": -5.5},
  "width": 1073, "height": 203,
  "view": {"stroke": null},
  "resolve": {"axis": {"x": "independent", "y": "independent"}},
  "layer": [
    {
      "data": {"name": "a"},
      "mark": {"type": "line", "interpolate": "monotone", "strokeWidth": 3, "clip": false},
      "encoding": {
        "x": {"field": "t", "type": "quantitative", "scale": {"domain": [0, 2.8], "range": [-11, 1073], "nice": false, "zero": false}, "axis": {"orient": "bottom", "values": [0, 0.5, 1, 1.5, 2, 2.5], "labelExpr": "toString(datum.value)", "title": "Time (s)", "titleFontSize": 20, "labelPadding": 11.5, "titlePadding": 3}},
        "y": {"field": "v", "type": "quantitative", "scale": {"domain": [-0.02005, 0.0024], "nice": false, "zero": false}, "axis": {"orient": "left", "offset": 1, "values": [-0.02, -0.015, -0.01, -0.005, 0], "labelExpr": "toString(round(datum.value*1000))", "title": "Rail deformation (m)", "titleFontSize": 21, "labelPadding": 8, "titlePadding": 6}},
        "color": {"field": "s", "type": "nominal", "scale": {"domain": ["C", "L", "S"], "range": ["#0000ff", "#000000", "#000000"]}, "legend": {"title": null, "direction": "vertical", "legendX": 14, "legendY": 140, "labelExpr": "datum.label == 'C' ? 'Compacted clay' : datum.label == 'L' ? 'Loam' : 'Soft subgrade'"}},
        "strokeDash": {"field": "s", "type": "nominal", "scale": {"domain": ["C", "L", "S"], "range": [[1, 0], [12, 7], [1, 0]]}, "legend": {"title": null, "direction": "vertical", "legendX": 14, "legendY": 140, "labelExpr": "datum.label == 'C' ? 'Compacted clay' : datum.label == 'L' ? 'Loam' : 'Soft subgrade'"}}
      }
    },
    {
      "data": {"values": [{}]},
      "mark": {"type": "point", "opacity": 0},
      "encoding": {
        "x": {"datum": 0, "type": "quantitative", "scale": {"domain": [0, 2.8], "range": [-11, 1073], "nice": false, "zero": false}, "axis": {"orient": "top", "values": [0.5, 1, 1.5, 2, 2.5], "labels": false, "title": null}},
        "y": {"datum": 0, "type": "quantitative", "scale": {"domain": [-0.02005, 0.0024], "nice": false, "zero": false}, "axis": {"orient": "right", "values": [-0.02, -0.015, -0.01, -0.005, 0], "labels": false, "title": null}}
      }
    },
    {
      "data": {"values": [{}]},
      "mark": {"type": "point", "opacity": 0},
      "encoding": {
        "x": {"datum": 0, "type": "quantitative", "scale": {"domain": [0, 2.8], "range": [-11, 1073], "nice": false, "zero": false}, "axis": {"orient": "bottom", "offset": 0, "domain": true, "ticks": false, "labels": false, "title": null}},
        "y": {"datum": 0, "type": "quantitative", "scale": {"domain": [-0.02005, 0.0024], "nice": false, "zero": false}, "axis": {"orient": "left", "offset": 11, "domain": true, "ticks": false, "labels": false, "title": null}}
      }
    },
    {
      "data": {"values": [{}]},
      "mark": {"type": "point", "opacity": 0},
      "encoding": {
        "x": {"datum": 0, "type": "quantitative", "scale": {"domain": [0, 2.8], "range": [-11, 1073], "nice": false, "zero": false}, "axis": {"orient": "top", "offset": 0, "domain": true, "ticks": false, "labels": false, "title": null}},
        "y": {"datum": 0, "type": "quantitative", "scale": {"domain": [-0.02005, 0.0024], "nice": false, "zero": false}, "axis": {"orient": "right", "offset": 0, "domain": true, "ticks": false, "labels": false, "title": null}}
      }
    },
    {
      "data": {"values": [{}]},
      "mark": {"type": "text", "text": "×10⁻³", "align": "left", "baseline": "alphabetic", "dx": 1, "dy": -4, "font": "Liberation Sans", "fontSize": 14, "fill": "#262626"},
      "encoding": {
        "x": {"datum": 0, "type": "quantitative", "scale": {"domain": [0, 2.8], "range": [-11, 1073], "nice": false, "zero": false}, "axis": null},
        "y": {"datum": 0.0024, "type": "quantitative", "scale": {"domain": [-0.02005, 0.0024], "nice": false, "zero": false}, "axis": null}
      }
    }
  ]
},
{
  "title": {"text": "b-) 60 m/s", "offset": -1.7},
  "width": 1073, "height": 211,
  "resolve": {"axis": {"x": "independent", "y": "independent"}},
  "layer": [
    {
      "data": {"name": "b"},
      "mark": {"type": "line", "interpolate": "monotone", "strokeWidth": 3, "clip": true},
      "encoding": {
        "x": {"field": "t", "type": "quantitative", "scale": {"domain": [0, 2.3], "nice": false, "zero": false}, "axis": {"orient": "bottom", "values": [0, 0.5, 1, 1.5, 2], "labelExpr": "toString(datum.value)", "title": "Time (s)", "titleFontSize": 20, "labelPadding": 11.5, "titlePadding": 5}},
        "y": {"field": "v", "type": "quantitative", "scale": {"domain": [-0.0216, 0.01], "nice": false, "zero": false}, "axis": {"orient": "left", "values": [-0.02, -0.01, 0, 0.01], "labelExpr": "toString(datum.value)", "title": "Rail deformation (m)", "titleFontSize": 21, "labelPadding": 9, "titlePadding": 6}},
        "color": {"field": "s", "type": "nominal", "scale": {"domain": ["C", "L", "S"], "range": ["#0000ff", "#000000", "#000000"]}, "legend": {"title": null, "direction": "horizontal", "legendX": 601, "legendY": 4, "clipHeight": 12, "labelExpr": "datum.label == 'C' ? 'Compacted clay' : datum.label == 'L' ? 'Loam' : 'Soft subgrade'"}},
        "strokeDash": {"field": "s", "type": "nominal", "scale": {"domain": ["C", "L", "S"], "range": [[1, 0], [12, 7], [1, 0]]}, "legend": {"title": null, "direction": "horizontal", "legendX": 601, "legendY": 4, "clipHeight": 12, "labelExpr": "datum.label == 'C' ? 'Compacted clay' : datum.label == 'L' ? 'Loam' : 'Soft subgrade'"}}
      }
    },
    {
      "data": {"values": [{}]},
      "mark": {"type": "point", "opacity": 0},
      "encoding": {
        "x": {"datum": 0, "type": "quantitative", "scale": {"domain": [0, 2.3], "nice": false, "zero": false}, "axis": {"orient": "top", "values": [0.5, 1, 1.5, 2], "labels": false, "title": null}},
        "y": {"datum": 0, "type": "quantitative", "scale": {"domain": [-0.0216, 0.01], "nice": false, "zero": false}, "axis": {"orient": "right", "values": [-0.02, -0.01, 0, 0.01], "labels": false, "title": null}}
      }
    }
  ]
},
{
  "title": {"text": "c-) 70 m/s", "offset": -1.5},
  "width": 1078, "height": 232,
  "resolve": {"axis": {"x": "independent", "y": "independent"}},
  "layer": [
    {
      "data": {"name": "c"},
      "mark": {"type": "line", "interpolate": "monotone", "strokeWidth": 3, "clip": true},
      "encoding": {
        "x": {"field": "t", "type": "quantitative", "scale": {"domain": [0, 2], "nice": false, "zero": false}, "axis": {"orient": "bottom", "values": [0, 0.2, 0.4, 0.6, 0.8, 1, 1.2, 1.4, 1.6, 1.8, 2], "labelExpr": "toString(datum.value)", "title": null, "labelPadding": 11}},
        "y": {"field": "v", "type": "quantitative", "scale": {"domain": [-0.03, 0.02], "nice": false, "zero": false}, "axis": {"orient": "left", "values": [-0.03, -0.02, -0.01, 0, 0.01, 0.02], "labelExpr": "toString(datum.value)", "title": "Rail deformation (m)", "titleFontSize": 21, "labelPadding": 9, "titlePadding": 6}},
        "color": {"field": "s", "type": "nominal", "scale": {"domain": ["C", "L", "S"], "range": ["#0000ff", "#000000", "#000000"]}, "legend": {"title": null, "direction": "horizontal", "legendX": 604, "legendY": 5, "clipHeight": 12, "labelExpr": "datum.label == 'C' ? 'Compacted clay' : datum.label == 'L' ? 'Loam' : 'Soft subgrade'"}},
        "strokeDash": {"field": "s", "type": "nominal", "scale": {"domain": ["C", "L", "S"], "range": [[1, 0], [12, 7], [1, 0]]}, "legend": {"title": null, "direction": "horizontal", "legendX": 604, "legendY": 5, "clipHeight": 12, "labelExpr": "datum.label == 'C' ? 'Compacted clay' : datum.label == 'L' ? 'Loam' : 'Soft subgrade'"}}
      }
    },
    {
      "data": {"values": [{}]},
      "mark": {"type": "point", "opacity": 0},
      "encoding": {
        "x": {"datum": 0, "type": "quantitative", "scale": {"domain": [0, 2], "nice": false, "zero": false}, "axis": {"orient": "top", "values": [0.2, 0.4, 0.6, 0.8, 1, 1.2, 1.4, 1.6, 1.8, 2], "labels": false, "title": null}},
        "y": {"datum": 0, "type": "quantitative", "scale": {"domain": [-0.03, 0.02], "nice": false, "zero": false}, "axis": {"orient": "right", "values": [-0.03, -0.02, -0.01, 0, 0.01, 0.02], "labels": false, "title": null}}
      }
    }
  ]
}
]
}
